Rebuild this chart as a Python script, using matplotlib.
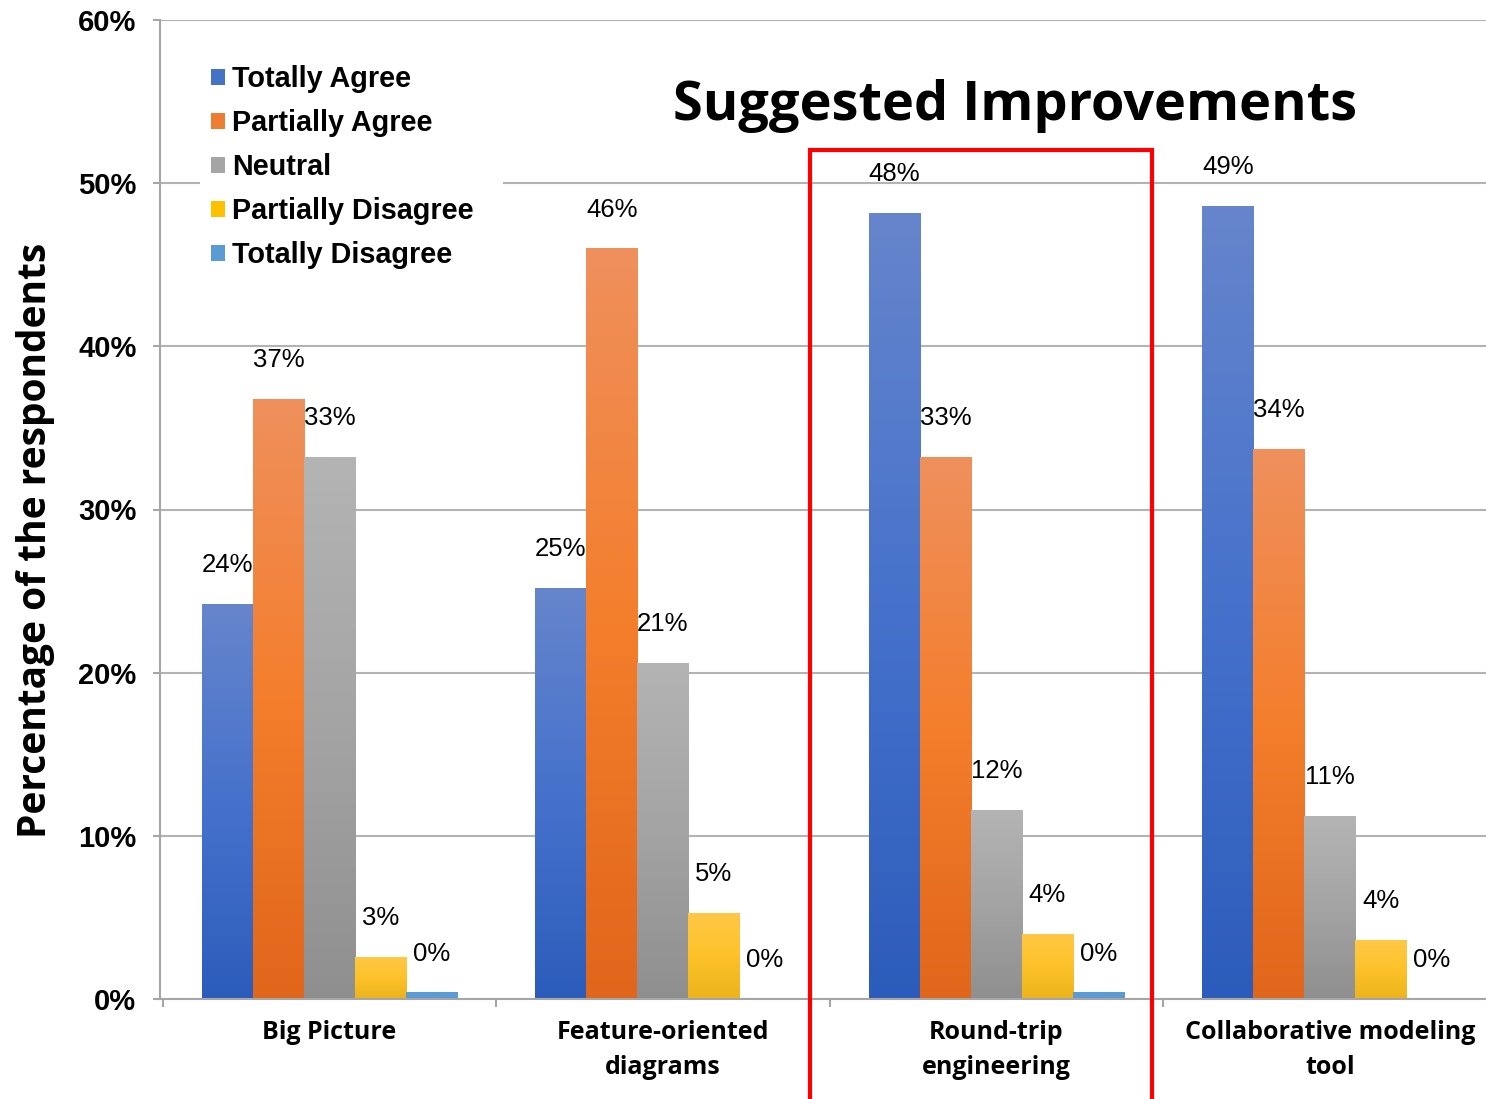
#!/usr/bin/env python3
# -*- coding: utf-8 -*-
"""
Suggested Improvements - 分组柱状图
"""

import numpy as np
import matplotlib
matplotlib.use('Agg')
import matplotlib.pyplot as plt
from matplotlib.patches import Patch, Rectangle
from matplotlib.colors import to_rgb

# 数据
categories = ['Big Picture', 'Feature-oriented\ndiagrams',
              'Round-trip\nengineering', 'Collaborative modeling\ntool']
series = ['Totally Agree', 'Partially Agree', 'Neutral',
          'Partially Disagree', 'Totally Disagree']
totally_agree = [24.2, 25.2, 48.2, 48.6]
partially_agree = [36.8, 46.0, 33.2, 33.7]
neutral = [33.2, 20.6, 11.6, 11.2]
partially_disagree = [2.6, 5.3, 4.0, 3.6]
totally_disagree = [0.4, 0.0, 0.4, 0.0]
yticks = [0, 10, 20, 30, 40, 50, 60]

values = [totally_agree, partially_agree, neutral,
          partially_disagree, totally_disagree]

# 每个系列的渐变色 (顶部, 中部, 底部)
gradients = [
    ['#6685cb', '#4672cc', '#2c5cbb'],
    ['#ef905c', '#f47e2c', '#e0661b'],
    ['#b4b4b4', '#a4a4a4', '#8f8f8f'],
    ['#ffc846', '#fdc22a', '#ecb31c'],
    ['#5b9bd5', '#5b9bd5', '#5b9bd5'],
]
legend_colors = ['#4472c4', '#ed7d31', '#a5a5a5', '#ffc000', '#5b9bd5']

W, H = 1486, 1099
DPI = 100


def px_x(x):
    return x / W


def px_y(y):
    return 1 - y / H


def gradient_image(colors, n=256):
    """生成竖直方向三段渐变"""
    c = np.array([to_rgb(col) for col in colors])
    t = np.linspace(0, 1, n)
    img = np.empty((n, 1, 3))
    for k in range(3):
        img[:, 0, k] = np.interp(t, [0, 0.5, 1], c[:, k])
    return img


def label_bar(ax, b, v):
    ax.annotate(f'{v:.0f}%', (b.get_x() + b.get_width() / 2, v),
                xytext=(0, 28), textcoords='offset points',
                ha='center', va='center', fontsize=18.5,
                family='Liberation Sans', zorder=3)


def main():
    fig = plt.figure(figsize=(W / DPI, H / DPI), dpi=DPI)
    ax = fig.add_axes([px_x(160), px_y(999), px_x(1486) - px_x(160),
                       px_y(20) - px_y(999)])

    x = np.arange(len(categories))
    width = 0.153

    ax.set_axisbelow(True)
    ax.yaxis.grid(True, color='#b3b3b3', linewidth=1.5)

    for i, (vals, cols) in enumerate(zip(values, gradients)):
        offs = x + (i - 2) * width
        bars = ax.bar(offs, vals, width, color=cols[1], zorder=2,
                      linewidth=0)
        img = gradient_image(cols)
        for b, v in zip(bars, vals):
            if v > 0:
                bx, bw = b.get_x(), b.get_width()
                im = ax.imshow(img, extent=[bx, bx + bw, 0, v],
                               aspect='auto', origin='upper', zorder=2.1,
                               interpolation='bilinear')
                im.set_clip_path(b)
            label_bar(ax, b, v)

    ax.set_xlim(-0.508, 3.468)
    ax.set_ylim(0, 60)

    # 坐标轴
    for s in ['top', 'right']:
        ax.spines[s].set_visible(False)
    for s in ['left', 'bottom']:
        ax.spines[s].set_color('#a6a6a6')
        ax.spines[s].set_linewidth(1.5)

    ax.set_yticks(yticks)
    ax.set_yticklabels([f'{t}%' for t in yticks], fontsize=21,
                       fontweight='bold', family='Liberation Sans')
    ax.tick_params(axis='y', length=5, color='#a6a6a6', width=1.5, pad=12)

    ax.set_xticks(x)
    ax.set_xticklabels(categories, fontsize=18, fontweight='bold',
                       family='Open Sans', va='top', linespacing=1.55)
    ax.tick_params(axis='x', length=0, pad=15)
    ax.set_xticks(np.arange(-0.5, 3.5, 1.0), minor=True)
    ax.tick_params(axis='x', which='minor', length=6, color='#a6a6a6',
                   width=1.5)

    # 图例背景遮住网格线
    ax.add_patch(Rectangle((px_x(200), px_y(280)), px_x(503) - px_x(200),
                           px_y(50) - px_y(280), transform=fig.transFigure,
                           facecolor='white', edgecolor='none', zorder=1))
    handles = [Patch(facecolor=c, edgecolor='none') for c in legend_colors]
    fig.legend(handles, series, loc='upper left',
               bbox_to_anchor=(px_x(211), px_y(65)),
               frameon=False, borderpad=0, borderaxespad=0,
               handlelength=0.5, handleheight=0.5, handletextpad=0.22,
               labelspacing=0.56,
               prop={'family': 'Liberation Sans', 'weight': 'bold',
                     'size': 20.7})

    fig.text(px_x(1015), px_y(120), 'Suggested Improvements',
             ha='center', va='baseline', fontsize=39, fontweight='bold',
             family='Open Sans')

    fig.text(px_x(36), px_y(540), 'Percentage of the respondents',
             rotation=90, ha='center', va='center', fontsize=28,
             fontweight='bold', family='Open Sans')

    # 红色框
    fig.add_artist(Rectangle((px_x(810), px_y(1110)), px_x(1152) - px_x(810),
                             px_y(150) - px_y(1110),
                             transform=fig.transFigure, fill=False,
                             edgecolor='#ff0000', linewidth=3,
                             clip_on=False))

    fig.savefig('out.png', dpi=DPI)
    plt.close(fig)


if __name__ == '__main__':
    main()
